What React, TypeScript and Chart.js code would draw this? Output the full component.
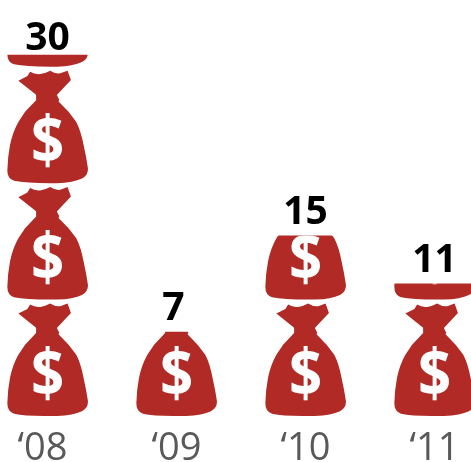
import { useEffect, useRef } from "react";
import { Chart, registerables } from "chart.js";

Chart.register(...registerables);

const categories = ["‘08", "‘09", "‘10", "‘11"];
const fines = [30, 7, 15, 11];
const unitsPerBag = 9.67;

const RED = "#b12a26";
const FONT = '"Open Sans"';
// icon outline, in its own design units (242 wide, bottom centre at 142,378)
const BAG = new Path2D(
  "M55 72 L82 58 L90 45 Q105 54 120 52 Q136 50 150 42 Q165 52 180 50 L202 42 L212 70 L170 115 L177 129 L175 134 L205 165 L228 195 Q242 222 250 265 Q258 300 263 335 Q263 355 245 364 Q220 376 170 378 Q80 379 42 371 Q22 365 22 340 Q23 300 30 264 Q38 225 55 195 L75 165 L108 130 L108 114 Z"
);

const bagPlugin = {
  id: "bags",
  beforeDraw(chart: any) {
    // the first label sits a little left of its column in the reference
    const items = chart.scales.x.getLabelItems();
    items[0].options.translation[0] -= 5;
  },
  afterDatasetsDraw(chart: any) {
    const { ctx, scales } = chart;
    const meta = chart.getDatasetMeta(0);
    const step = scales.y.getPixelForValue(0) - scales.y.getPixelForValue(unitsPerBag);
    meta.data.forEach((bar: any, i: number) => {
      const w = bar.width;
      const s = w / 242;
      ctx.save();
      ctx.beginPath();
      ctx.rect(bar.x - w / 2 - 1, bar.y, w + 2, bar.base - bar.y);
      ctx.clip();
      for (let k = 0; k * unitsPerBag < fines[i]; k++) {
        ctx.save();
        ctx.translate(bar.x, bar.base - k * step);
        ctx.scale(s, s);
        ctx.translate(-142, -378);
        ctx.fillStyle = RED;
        ctx.fill(BAG);
        ctx.restore();
        ctx.save();
        ctx.fillStyle = "#ffffff";
        ctx.font = `700 66px ${FONT}`;
        ctx.textAlign = "center";
        ctx.textBaseline = "alphabetic";
        ctx.translate(bar.x, bar.base - k * step - 19);
        ctx.scale(0.88, 1);
        ctx.fillText("$", 0, 0);
        ctx.restore();
      }
      ctx.restore();
      ctx.fillStyle = "#000000";
      ctx.font = `700 39px ${FONT}`;
      ctx.textAlign = "center";
      ctx.textBaseline = "alphabetic";
      const nudge = fines[i] < 10 ? -3 : 0;
      ctx.fillText(String(fines[i]), bar.x + nudge, Math.max(bar.y - 11.5, 49.5));
    });
  },
};

export default function App() {
  const ref = useRef<HTMLCanvasElement>(null);
  useEffect(() => {
    const chart = new Chart(ref.current!, {
      type: "bar",
      data: {
        labels: categories,
        datasets: [{ data: fines, backgroundColor: "rgba(0,0,0,0)", barThickness: 81 }],
      },
      plugins: [bagPlugin],
      options: {
        animation: false,
        responsive: false,
        devicePixelRatio: 1,
        layout: { padding: 0 },
        plugins: { legend: { display: false }, tooltip: { enabled: false } },
        scales: {
          x: {
            grid: { display: false, drawTicks: false },
            border: { display: false },
            afterFit: (s: any) => {
              s.height = 46;
            },
            ticks: {
              color: "#595959",
              padding: 10,
              maxRotation: 0,
              font: { family: FONT, size: 38, weight: "400" },
            },
          },
          y: { display: false, min: 0, max: 34.55 },
        },
      },
    } as any);
    return () => chart.destroy();
  }, []);
  return (
    <div style={{ position: "fixed", left: 0, top: 0, width: 471, height: 462, overflow: "hidden", background: "#fff" }}>
      <canvas ref={ref} width={516} height={462} style={{ position: "absolute", left: -17, top: 0, width: 516, height: 462 }} />
    </div>
  );
}
